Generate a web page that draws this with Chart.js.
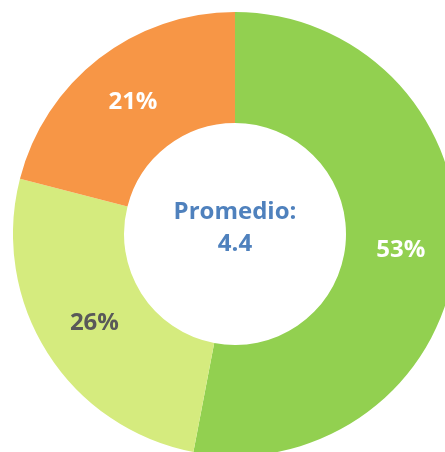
<!DOCTYPE html>
<html>
<head>
<meta charset="utf-8">
<script src="https://cdn.jsdelivr.net/npm/chart.js@4/dist/chart.umd.min.js"></script>
<style>
  html, body { margin: 0; padding: 0; background: #fff; overflow: hidden; }
  body { width: 445px; height: 452px; position: relative; }
  #wrap { position: absolute; left: 13px; top: 12px; width: 444px; height: 444px; }
</style>
</head>
<body>
<div id="wrap"><canvas id="donut"></canvas></div>
<script>
var categories = ['Verde', 'Verde claro', 'Naranja'];
var values = [53, 26, 21];
var sliceColors = ['#92D050', '#D5EB7E', '#F79646'];
var labelColors = ['#FFFFFF', '#595959', '#FFFFFF'];
var centerLines = ['Promedio:', '4.4'];

var FONT = '"Open Sans", "Liberation Sans", sans-serif';

// etiquetas de porcentaje au centre de chaque segment
var sliceLabels = {
    id: 'sliceLabels',
    afterDatasetsDraw: function(chart) {
        var ctx = chart.ctx;
        var meta = chart.getDatasetMeta(0);
        var total = values.reduce(function(a, b) { return a + b; }, 0);
        ctx.save();
        ctx.font = 'bold 24px ' + FONT;
        ctx.textAlign = 'center';
        ctx.textBaseline = 'middle';
        meta.data.forEach(function(arc, i) {
            var p = arc.getCenterPoint();
            ctx.fillStyle = labelColors[i];
            ctx.fillText(Math.round(values[i] / total * 100) + '%', p.x, p.y);
        });
        ctx.restore();
    }
};

var centerText = {
    id: 'centerText',
    afterDraw: function(chart) {
        var ctx = chart.ctx;
        var arc = chart.getDatasetMeta(0).data[0];
        ctx.save();
        ctx.font = 'bold 24px ' + FONT;
        ctx.fillStyle = '#4F81BD';
        ctx.textAlign = 'center';
        ctx.textBaseline = 'middle';
        ctx.fillText(centerLines[0], arc.x, arc.y - 22);
        ctx.fillText(centerLines[1], arc.x, arc.y + 10);
        ctx.restore();
    }
};

new Chart(document.getElementById('donut'), {
    type: 'doughnut',
    data: {
        labels: categories,
        datasets: [{
            data: values,
            backgroundColor: sliceColors,
            borderWidth: 0,
            hoverOffset: 0,
            offset: 0
        }]
    },
    options: {
        responsive: true,
        maintainAspectRatio: false,
        animation: false,
        cutout: '50%',
        layout: { padding: 0 },
        plugins: {
            legend: { display: false },
            tooltip: { enabled: false }
        }
    },
    plugins: [sliceLabels, centerText]
});
</script>
</body>
</html>
